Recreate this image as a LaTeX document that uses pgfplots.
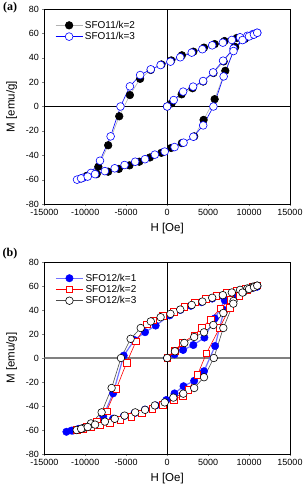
\documentclass[border=0pt]{standalone}
\usepackage{fontspec}
\setmainfont{Liberation Sans}
\newfontfamily\timesfont{Liberation Serif}
\usepackage{pgfplots}
\pgfplotsset{compat=1.18}
\pgfplotsset{myaxis/.style={
 scale only axis, width=245.7pt,
 xmin=-15000,xmax=15000,ymin=-80,ymax=80,
 xtick={-15000,-10000,...,15000}, ytick={-80,-60,...,80},
 /pgf/number format/assume math mode=true, /pgf/number format/1000 sep={},
 scaled x ticks=false, scaled y ticks=false,
 tick label style={font=\fontsize{9}{10}\selectfont},
 label style={font=\fontsize{11.5}{12}\selectfont},
 xlabel={H [Oe]}, ylabel={M [emu/g]},
 ylabel style={xshift=0pt, yshift=2pt},
 tick align=outside, major tick length=2pt, xtick pos=bottom, ytick pos=left,
 axis line style={line width=0.6pt},
 legend style={draw=none, fill=none, at={(0.04,0.955)}, anchor=north west,
   font=\fontsize{10}{11}\selectfont, row sep=-1.5pt, inner sep=1pt},
 legend cell align=left,
 legend image code/.code={\draw[mark repeat=2,mark phase=2] plot coordinates {(0pt,0pt)(13.5pt,0pt)(27pt,0pt)};},
}}
\begin{document}
\begin{tikzpicture}[x=1pt,y=1pt]
\useasboundingbox (0,0) rectangle (303,488);
% ---------------- panel (a)
\begin{axis}[myaxis, height=195pt, at={(44.3pt,284pt)}, anchor=south west]
\addplot[black, line width=0.6pt, forget plot] coordinates {(0,-80)(0,80)};
\addplot[black, line width=0.6pt, forget plot] coordinates {(-15000,0)(15000,0)};
\addplot[color=gray!60, line width=0.6pt, mark=*, mark size=3.8pt, mark options={draw=black, fill=black}] coordinates {
(0,0)(550,2.6)(1770,10)(3100,15)(4400,20.5)(5650,27.5)(6900,37)(8250,49)(9300,55)(10500,59)
(9800,57.5)(8500,56.2)(7000,53.7)(5800,51.2)(4500,48.3)(3200,45)(1800,42)(500,37.8)(-700,34.5)(-2000,30)(-3300,22.7)(-4550,9.4)(-5850,-8)(-7200,-31.8)(-8400,-49.4)(-9800,-57)(-10500,-59)
(-9800,-57)(-8600,-55.5)(-7200,-53.5)(-5900,-51.2)(-4600,-48.3)(-3400,-45.3)(-2100,-41.8)(-700,-38)(500,-34)(1800,-30)(3300,-24.5)(4450,-11)(5800,6)(7100,29.3)(8300,48.6)(9500,55.5)(10500,59)
};
\addlegendentry{SFO11/k=2}
\addplot[color=blue, line width=0.6pt, mark=*, mark size=3.9pt, mark options={draw=blue, fill=white}] coordinates {
(0,0)(800,5.3)(1950,12.2)(3170,16.3)(4390,20.9)(5610,28)(6830,37.6)(8100,47.5)(9300,55)(10300,58.5)(11000,60.5)
(10500,59.5)(9800,58)(8900,56.8)(7900,54.6)(6800,52.4)(5500,50.2)(4300,47)(3000,44.2)(1600,40.4)(400,36.8)(-800,34)(-2000,30.5)(-3300,25.8)(-4550,16.5)(-5700,0)(-6900,-24.5)(-8200,-44.5)(-9300,-54.5)(-10300,-58.5)(-11000,-60)
(-10500,-59)(-9700,-57.5)(-8800,-55.5)(-7600,-53)(-6400,-50.7)(-5200,-48)(-3900,-45.3)(-2700,-43.2)(-1500,-39.5)(-300,-37)(900,-33.3)(2000,-29.7)(3200,-24.8)(4400,-15.5)(5650,0)(6900,24.7)(8100,45.5)(9200,54.5)(10000,57.5)(10600,59)(11000,60.5)
};
\addlegendentry{SFO11/k=3}
\end{axis}
\node[font=\timesfont\bfseries\fontsize{12}{12}\selectfont] at (10,480) {(a)};
% ---------------- panel (b)
\begin{axis}[myaxis, height=192pt, at={(44.3pt,34pt)}, anchor=south west]
\addplot[black, line width=0.6pt, forget plot] coordinates {(0,-80)(0,80)};
\addplot[gray, line width=1.2pt, forget plot] coordinates {(-15000,0)(15000,0)};
\addplot[color=blue!55, line width=1.2pt, mark=*, mark size=3.7pt, mark options={draw=blue, fill=blue, line width=0.5pt}] coordinates {
(0,0)(900,3)(1950,6.7)(3200,10.8)(4550,17)(5820,33)(7040,48)(8300,53.5)(9600,57)(11000,59.5)
(10300,58.5)(9300,56.5)(8000,54)(6800,51.5)(5500,49.5)(4200,46.5)(2900,43.5)(1600,40)(300,35.5)(-1400,27)(-2700,21.5)(-4000,15)(-5300,2)(-6600,-29.5)(-7800,-48.5)(-9000,-55)(-10300,-58.5)(-11500,-60.5)(-12300,-61.5)
(-11700,-60.5)(-10800,-59)(-9600,-57)(-8000,-53.5)(-6600,-50.5)(-5300,-48.5)(-4000,-46)(-2700,-43)(-1400,-39.5)(-100,-35)(900,-29.5)(2000,-23.5)(3300,-19)(4500,-11)(5850,10)(6950,40)(8100,51)(9400,56)(10500,58.5)(11000,59.5)
};
\addlegendentry{SFO12/k=1}
\addplot[color=red, line width=0.6pt, mark=square*, mark size=3.3pt, mark options={draw=red, fill=white}] coordinates {
(0,0)(900,6)(1850,12.5)(3300,19)(4200,25)(5300,32)(6500,41.5)(7700,48.5)(9000,55)(10000,58)(11000,60.5)
(10400,59.5)(9600,58)(8500,56.5)(7300,54.5)(6000,52)(4700,49.5)(3400,46.5)(2100,42.5)(800,38.5)(-500,35)(-1700,31.5)(-2500,28)(-3800,14)(-4950,-4)(-6200,-25.5)(-7400,-44.5)(-8600,-53)(-9800,-57.5)(-11000,-60)
(-10300,-59)(-9300,-57.5)(-8200,-56)(-7000,-54)(-5700,-51.5)(-4400,-49)(-3100,-46)(-1800,-42.5)(-500,-39)(800,-35)(1900,-31.5)(2600,-26.5)(3700,-14.2)(4800,4)(6400,25)(7650,42)(8800,52)(9800,56.5)(11000,60.5)
};
\addlegendentry{SFO12/k=2}
\addplot[color=black!70, line width=0.6pt, mark=*, mark size=3.8pt, mark options={draw=black, fill=white}] coordinates {
(0,0)(950,5.6)(2100,12.5)(3300,17.5)(4500,21.4)(5640,27.5)(6860,37.5)(8100,47.5)(9300,55)(10300,58.5)(11000,60.3)
(10500,59.5)(9800,58)(8900,56.8)(7900,54.6)(6800,52.4)(5500,50.2)(4300,47)(3000,44.2)(1600,40.4)(400,36.8)(-800,34)(-2000,30.5)(-3230,25)(-4460,16)(-5640,0)(-6780,-25)(-8000,-45.3)(-9300,-54.5)(-10300,-58.5)(-11050,-60)
(-10500,-59)(-9700,-57.5)(-8800,-55.5)(-7600,-53)(-6400,-50.7)(-5200,-48)(-3900,-45.3)(-2700,-43.2)(-1500,-39.5)(-300,-37)(760,-33)(1970,-29.7)(3300,-25)(4500,-16)(5700,0)(6860,25)(8080,45.3)(9200,54.5)(10000,57.5)(10600,59)(11000,60.3)
};
\addlegendentry{SFO12/k=3}
\end{axis}
\node[font=\timesfont\bfseries\fontsize{12}{12}\selectfont] at (10,234) {(b)};
\end{tikzpicture}
\end{document}
